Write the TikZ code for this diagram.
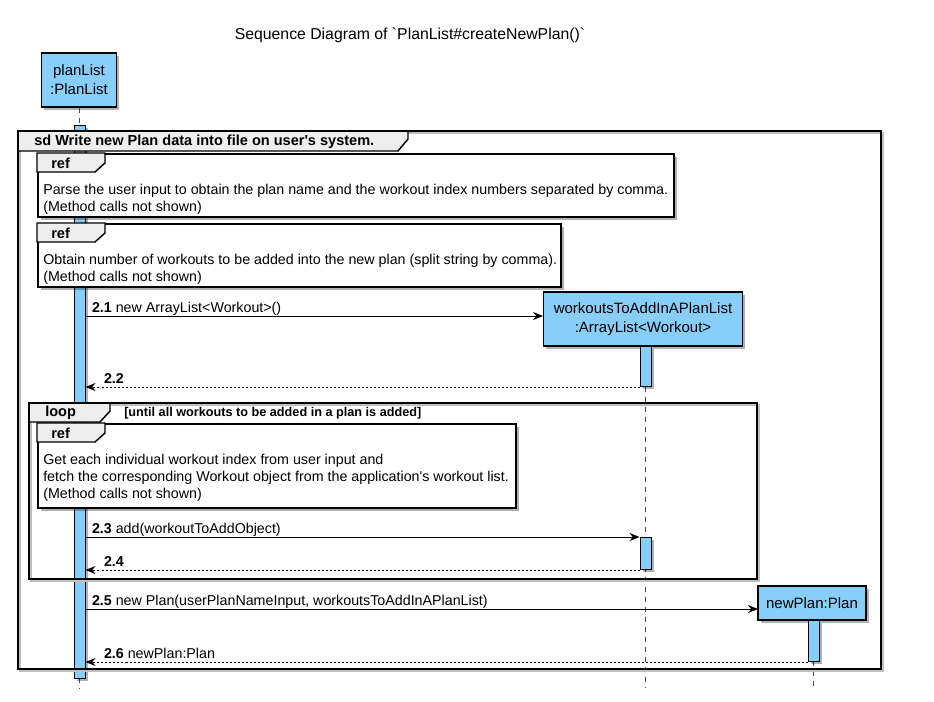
\documentclass[tikz,border=0pt]{standalone}
\usepackage{fontspec}
\setmainfont{Liberation Sans}
\usetikzlibrary{arrows.meta,positioning,shadows,backgrounds}
\definecolor{actblue}{RGB}{135,206,250}
\definecolor{tabgray}{RGB}{238,238,238}

\begin{document}
\begin{tikzpicture}[x=0.75pt,y=-0.75pt,
  shadowed/.style={drop shadow={shadow xshift=2pt,shadow yshift=-2pt,opacity=0.3,fill=black}},
  part/.style={draw,fill=actblue,line width=1.1pt,inner sep=0pt,align=center,
    font=\fontsize{11.25}{14.25}\selectfont,shadowed},
  actbar/.style={draw,fill=actblue,line width=0.75pt,inner sep=0pt,minimum width=8.25pt,anchor=north,shadowed},
  lifeline/.style={black!70,line width=0.75pt,dash pattern=on 3.75pt off 3.75pt},
  msg/.style={-{Stealth[length=7.5pt,width=6pt,inset=2.5pt]},line width=0.75pt},
  ret/.style={msg,dash pattern=on 1.5pt off 1.5pt},
  lbl/.style={anchor=base west,inner sep=0pt,font=\fontsize{10.7}{12.75}\selectfont},
  frameline/.style={line width=1.5pt},
  frameshade/.style={black!25,line width=1.5pt},
  tab/.style={draw,fill=tabgray,line width=1.1pt},
  refbox/.style={draw,fill=white,line width=1.5pt,inner sep=0pt,anchor=north west,shadowed},
  notetext/.style={anchor=north west,inner sep=0pt,align=left,font=\fontsize{10.7}{12.75}\selectfont},
  tabtext/.style={anchor=west,inner sep=0pt,font=\bfseries\fontsize{10.9}{12.75}\selectfont}]
  \useasboundingbox (0,0) rectangle (934,701);

  % title
  \node[font=\fontsize{11.85}{14}\selectfont] (title) at (410,35)
       {Sequence Diagram of \textasciigrave PlanList\#createNewPlan()\textasciigrave};

  % participants
  \node[part,minimum width=56.25pt,minimum height=40.5pt] (pl) at (79,80) {planList\\:PlanList};
  \node[part,minimum width=149.25pt,minimum height=40.5pt] (wk) at (643,319)
       {workoutsToAddInAPlanList\\:ArrayList<Workout>};
  \node[part,minimum width=81pt,minimum height=25.5pt] (np) at (812,603) {newPlan:Plan};
  \coordinate (lifeend) at (0,688);

  % activation bars
  \node[actbar,minimum height=414.75pt] (bar0) at (79.5,125) {};
  \node[actbar,minimum height=30pt] (barw1) at (645.5,346) {};
  \node[actbar,minimum height=24pt] (barw2) at (645.5,537) {};
  \node[actbar,minimum height=30.75pt] (barn) at (813.5,620) {};

  % lifelines
  \begin{scope}[on background layer]
    \draw[lifeline] (bar0.north |- pl.south) -- (bar0.north |- lifeend);
    \draw[lifeline] (barw1.north |- wk.south) -- (barw1.north |- lifeend);
    \draw[lifeline] (barn.north |- np.south) -- (barn.north |- lifeend);
  \end{scope}

  % sd frame
  \draw[frameshade] (20,133) rectangle (883,671);
  \draw[tab] (18,131) -- (408,131) -- (408,139) -- (398,151) -- (18,151) -- cycle;
  \draw[frameline] (18,131) rectangle (881,669);
  \node[tabtext] (sdlbl) at (34,141.5)
       {sd Write new Plan data into file on user\textquotesingle s system.};

  % ref 1
  \node[refbox,minimum width=477pt,minimum height=47.25pt] (ref1) at (37,153) {};
  \draw[tab] (ref1.north west) -- ++(68,0) -- ++(0,10) -- ++(-10,9) -- ++(-58,0) -- cycle;
  \node[tabtext] (ref1lbl) at (51,163) {ref};
  \node[notetext] (ref1txt) at (43,183.5)
       {Parse the user input to obtain the plan name and the workout index numbers separated by comma.\\
        (Method calls not shown)};

  % ref 2
  \node[refbox,minimum width=392.25pt,minimum height=47.25pt] (ref2) at (37,223) {};
  \draw[tab] (ref2.north west) -- ++(68,0) -- ++(0,10) -- ++(-10,9) -- ++(-58,0) -- cycle;
  \node[tabtext] (ref2lbl) at (51,233) {ref};
  \node[notetext] (ref2txt) at (43,253.5)
       {Obtain number of workouts to be added into the new plan (split string by comma).\\
        (Method calls not shown)};

  % 2.1 / 2.2
  \coordinate (m21) at (543,316);
  \draw[msg] (bar0.east |- m21) -- (m21)
       node[lbl,pos=0,xshift=4.5pt,yshift=3pt] {\textbf{2.1} new ArrayList<Workout>()};
  \draw[ret] (barw1.south west) -- (bar0.east |- barw1.south west)
       node[lbl,pos=1,xshift=13.5pt,yshift=3pt] {\textbf{2.2}};

  % loop frame
  \draw[frameshade] (31,405) rectangle (759,581);
  \draw[tab] (29,403) -- (110,403) -- (110,411) -- (100,422) -- (29,422) -- cycle;
  \draw[frameline] (29,403) rectangle (757,579);
  \node[tabtext] (looplbl) at (45,413) {loop};
  \node[tabtext,font=\bfseries\fontsize{9.5}{11}\selectfont] (guard) at (124,413.5)
       {[until all workouts to be added in a plan is added]};

  % ref 3
  \node[refbox,minimum width=358.5pt,minimum height=63pt] (ref3) at (37,423) {};
  \draw[tab] (ref3.north west) -- ++(68,0) -- ++(0,10) -- ++(-10,9) -- ++(-58,0) -- cycle;
  \node[tabtext] (ref3lbl) at (51,433) {ref};
  \node[notetext] (ref3txt) at (43,454)
       {Get each individual workout index from user input and\\
        fetch the corresponding Workout object from the application\textquotesingle s workout list.\\
        (Method calls not shown)};

  % 2.3 / 2.4
  \draw[msg] (bar0.east |- barw2.north west) -- (barw2.north west)
       node[lbl,pos=0,xshift=4.5pt,yshift=3pt] {\textbf{2.3} add(workoutToAddObject)};
  \draw[ret] (barw2.south west) -- (bar0.east |- barw2.south west)
       node[lbl,pos=1,xshift=13.5pt,yshift=3pt] {\textbf{2.4}};

  % 2.5 / 2.6
  \coordinate (m25) at (758,609);
  \draw[msg] (bar0.east |- m25) -- (m25)
       node[lbl,pos=0,xshift=4.5pt,yshift=3pt] {\textbf{2.5} new Plan(userPlanNameInput, workoutsToAddInAPlanList)};
  \draw[ret] (barn.south west) -- (bar0.east |- barn.south west)
       node[lbl,pos=1,xshift=13.5pt,yshift=3pt] {\textbf{2.6} newPlan:Plan};
\end{tikzpicture}
\end{document}
